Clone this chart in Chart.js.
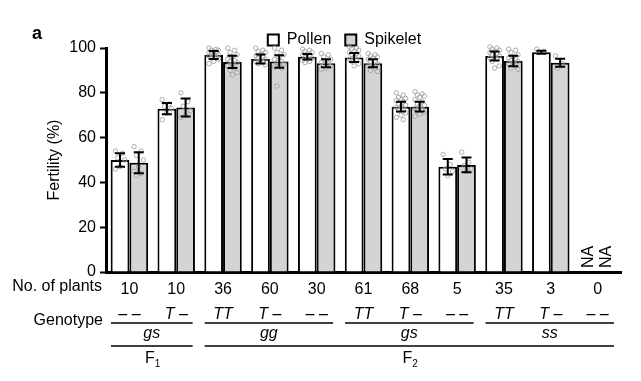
<!DOCTYPE html>
<html><head><meta charset="utf-8">
<script src="https://cdn.jsdelivr.net/npm/chart.js@4/dist/chart.umd.min.js"></script>
<style>html,body{margin:0;padding:0;background:#fff}#wrap{width:641px;height:381px}</style>
</head><body><div id="wrap"><canvas id="c" width="641" height="381"></canvas></div>
<script>
const plantCounts = ['10','10','36','60','30','61','68','5','35','3','0'];
const genotypes = ['\u2013 \u2013','T \u2013','TT','T \u2013','\u2013 \u2013','TT','T \u2013','\u2013 \u2013','TT','T \u2013','\u2013 \u2013'];
const pollen = [50.0, 72.9, 96.9, 95.1, 96.1, 95.8, 73.8, 47.0, 96.4, 98.1, null];
const spikelet = [48.8, 73.4, 93.8, 94.0, 93.2, 93.2, 73.8, 47.8, 94.2, 93.4, null];
const pollenErr = [3.0, 2.5, 1.8, 2.0, 1.2, 2.0, 2.2, 3.5, 2.0, 0.7, null];
const spikeletErr = [4.7, 4.0, 2.7, 2.8, 1.8, 1.8, 2.2, 3.3, 2.3, 1.8, null];
const pollenDots = [
  [54, 53, 51, 50, 47, 46],
  [77, 75, 74, 73, 71, 68],
  [100, 99.5, 99, 99, 98.5, 98, 98, 97.5, 97, 97, 96.5, 96, 95.5, 95, 94, 93],
  [100, 99, 98.5, 98, 97, 96.5, 96, 95.5, 95, 94.5, 94, 93.5, 93, 92.5],
  [99.5, 99, 98.5, 98, 97.5, 97, 96.5, 96, 95.5, 95, 94.5, 94, 93.5],
  [100.5, 100, 99.5, 99, 98.5, 98, 97.5, 97, 96.5, 96, 95, 94.5, 94, 93, 92],
  [80, 79, 78, 77.5, 77, 76.5, 76, 75, 74.5, 74, 73.5, 73, 72, 71, 70, 69, 68],
  [52.5, 48, 46, 45, 43],
  [100.5, 100, 99.5, 99, 98.5, 98, 97.5, 97, 96.5, 96, 95.5, 95, 94, 92, 91],
  [99.5, 98.5, 98],
  []
];
const spikeletDots = [
  [56, 54, 52, 50, 47, 45, 44, 43],
  [80, 76, 74, 72, 70, 69],
  [100, 99, 98, 97, 96, 95, 94.5, 94, 93.5, 93, 92, 91, 90, 89, 88],
  [100, 99, 98, 97, 96, 95, 94, 93.5, 93, 92, 91.5, 91, 83],
  [97.5, 97, 96, 95, 94, 93.5, 93, 92.5, 92, 91, 90.5],
  [97.5, 97, 96.5, 96, 95.5, 95, 94, 93.5, 93, 92.5, 92, 91, 90, 89.5],
  [80.5, 79.5, 79, 78.5, 78, 77, 76, 75, 74.5, 74, 73, 72.5, 72, 71, 70.5, 69.5],
  [53.5, 49, 47.5, 46, 45],
  [99.5, 99, 98, 97, 96, 95.5, 95, 94.5, 94, 93.5, 93, 92, 91, 90.5],
  [96.5, 93, 91],
  []
];
const backgrounds = [
  {label: 'gs', from: 0, to: 1},
  {label: 'gg', from: 2, to: 4},
  {label: 'gs', from: 5, to: 7},
  {label: 'ss', from: 8, to: 10}
];
const generations = [
  {label: 'F', sub: '1', from: 0, to: 1},
  {label: 'F', sub: '2', from: 2, to: 10}
];
const naIndex = 10;

const FONT = "'Liberation Sans', Arial, Helvetica, sans-serif";
Chart.defaults.font.family = FONT;
Chart.defaults.color = '#000';

const toXY = (arr) => arr.map((v, i) => ({x: i, y: v}));
function dotPoints(arr, side) {
  const pts = [];
  arr.forEach((vals, i) => {
    vals.forEach((v, k) => {
      const j = ((k * 3) % 5 - 2) * 0.05;
      pts.push({x: i + side * 0.2 + j, y: v});
    });
  });
  return pts;
}

const errorBars = {
  id: 'errorBars',
  afterDatasetsDraw(chart) {
    const ctx = chart.ctx, y = chart.scales.y;
    [[0, pollen, pollenErr], [1, spikelet, spikeletErr]].forEach(([di, vals, errs]) => {
      const meta = chart.getDatasetMeta(di);
      meta.data.forEach((el, i) => {
        if (vals[i] == null || errs[i] == null) return;
        const x = el.x, y1 = y.getPixelForValue(vals[i] - errs[i]), y2 = y.getPixelForValue(vals[i] + errs[i]);
        ctx.save();
        ctx.strokeStyle = '#000'; ctx.lineWidth = 2;
        ctx.beginPath();
        ctx.moveTo(x, y1); ctx.lineTo(x, y2);
        ctx.moveTo(x - 5, y1); ctx.lineTo(x + 5, y1);
        ctx.moveTo(x - 5, y2); ctx.lineTo(x + 5, y2);
        ctx.stroke();
        ctx.restore();
      });
    });
  }
};

const annotations = {
  id: 'annotations',
  afterLayout(chart) {
    const lg = chart.legend;
    if (lg) { lg.left += 14; lg.right += 14; lg.top += 10; lg.bottom += 10; }
  },
  afterDraw(chart) {
    const ctx = chart.ctx, xs = chart.scales.x, ys = chart.scales.y;
    const half = (xs.getPixelForValue(1) - xs.getPixelForValue(0)) / 2;
    ctx.save();
    ctx.fillStyle = '#000'; ctx.strokeStyle = '#000';
    ctx.font = "bold 18px " + FONT;
    ctx.textAlign = 'left'; ctx.textBaseline = 'alphabetic';
    ctx.fillText('a', 32, 39);
    ctx.font = "16px " + FONT;
    ctx.textAlign = 'right'; ctx.textBaseline = 'middle';
    ctx.fillText('No. of plants', 102, 287);
    ctx.textBaseline = 'alphabetic';
    ctx.fillText('Genotype', 103, 325);
    ctx.font = "italic 16px " + FONT;
    ctx.textAlign = 'center';
    genotypes.forEach((g, i) => ctx.fillText(g, xs.getPixelForValue(i), 319));
    ctx.lineWidth = 1.3;
    backgrounds.forEach(b => {
      const x1 = xs.getPixelForValue(b.from) - half + 5, x2 = xs.getPixelForValue(b.to) + half - 7;
      ctx.beginPath(); ctx.moveTo(x1, 323); ctx.lineTo(x2, 323); ctx.stroke();
      ctx.fillText(b.label, (x1 + x2) / 2, 338);
    });
    generations.forEach(g => {
      const x1 = xs.getPixelForValue(g.from) - half + 5, x2 = xs.getPixelForValue(g.to) + half - 7;
      ctx.beginPath(); ctx.moveTo(x1, 346); ctx.lineTo(x2, 346); ctx.stroke();
      const cx = (x1 + x2) / 2;
      ctx.font = "16px " + FONT;
      ctx.textAlign = 'right';
      ctx.fillText(g.label, cx + 3, 363);
      ctx.font = "10px " + FONT;
      ctx.textAlign = 'left';
      ctx.fillText(g.sub, cx + 3, 367);
    });
    ctx.font = "16px " + FONT;
    [-0.2, 0.2].forEach(off => {
      const x = xs.getPixelForValue(naIndex + off);
      ctx.save();
      ctx.translate(x, ys.getPixelForValue(0) - 4);
      ctx.rotate(-Math.PI / 2);
      ctx.textAlign = 'left'; ctx.textBaseline = 'middle';
      ctx.fillText('NA', 0, 0);
      ctx.restore();
    });
    ctx.restore();
  }
};

const dotStyle = {
  type: 'scatter', order: 1,
  pointRadius: 2.2, pointBorderWidth: 0.8, pointBorderColor: '#999999',
  pointBackgroundColor: 'rgba(255,255,255,0.2)', pointHoverRadius: 2.2, clip: false
};

new Chart(document.getElementById('c'), {
  type: 'bar',
  data: {
    datasets: [
      {type: 'bar', label: 'Pollen', data: toXY(pollen), backgroundColor: '#ffffff', borderColor: '#000', borderWidth: 2,
       categoryPercentage: 0.8, barPercentage: 1.0, order: 2},
      {type: 'bar', label: 'Spikelet', data: toXY(spikelet), backgroundColor: '#d4d4d4', borderColor: '#000', borderWidth: 2,
       categoryPercentage: 0.8, barPercentage: 1.0, order: 2},
      Object.assign({label: '', data: dotPoints(pollenDots, -1)}, dotStyle),
      Object.assign({label: '', data: dotPoints(spikeletDots, 1)}, dotStyle)
    ]
  },
  options: {
    responsive: false, animation: false, devicePixelRatio: 1,
    layout: {padding: {left: 40, right: 20, top: 8, bottom: 0}},
    plugins: {
      tooltip: {enabled: false},
      legend: {
        position: 'top',
        labels: {
          filter: (item) => item.text !== '',
          boxWidth: 11, boxHeight: 11, padding: 14, color: '#000',
          font: {size: 16, family: FONT}
        }
      }
    },
    scales: {
      x: {
        type: 'linear', position: 'bottom', min: -0.5, max: 10.5, offset: false,
        grid: {display: false, drawTicks: false},
        border: {display: true, width: 3, color: '#000'},
        ticks: {autoSkip: false, maxRotation: 0,
                color: '#000', font: {size: 16, family: FONT}, padding: 8,
                callback: (v) => (plantCounts[v] !== undefined) ? plantCounts[v] : ''},
        afterBuildTicks(s) { s.ticks = plantCounts.map((_, i) => ({value: i})); },
        afterFit(s) { s.height = 109; }
      },
      y: {
        type: 'linear', min: 0, max: 100,
        ticks: {stepSize: 20, color: '#000', font: {size: 16, family: FONT}, padding: 4},
        grid: {drawOnChartArea: false, drawTicks: true, tickLength: 6, tickWidth: 2, tickColor: '#000'},
        border: {display: true, width: 3, color: '#000'},
        title: {display: true, text: 'Fertility (%)', color: '#000', font: {size: 16, family: FONT}, padding: {top: 5, bottom: 0}},
        afterFit(s) { s.width = 66; }
      }
    }
  },
  plugins: [errorBars, annotations]
});
</script>
</body></html>
